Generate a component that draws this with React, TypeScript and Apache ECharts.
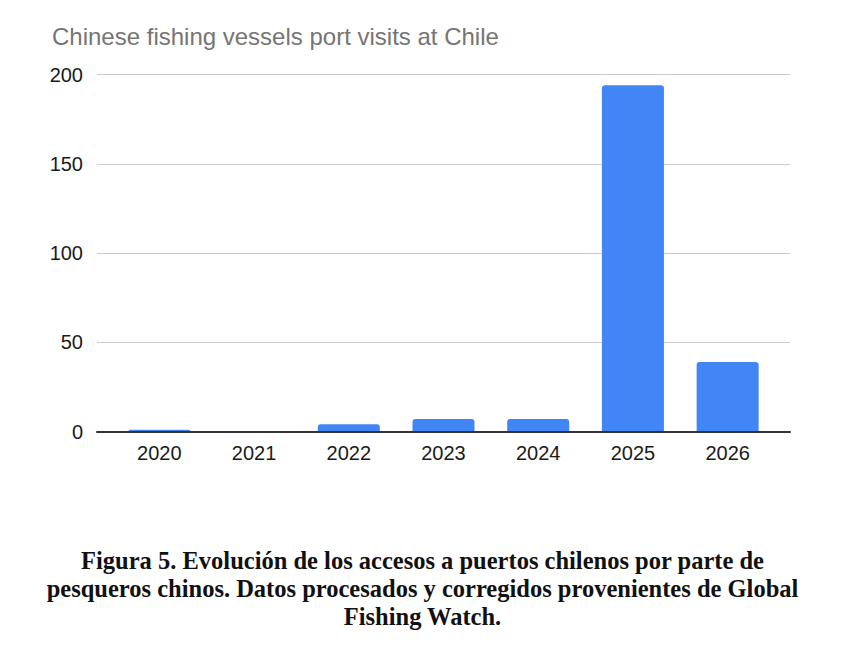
import React, { useEffect, useRef } from "react";
import * as echarts from "echarts";

const years = ["2020", "2021", "2022", "2023", "2024", "2025", "2026"];
const portVisits = [1, 0, 4, 7, 7, 194, 39];
const yTicks = [0, 50, 100, 150, 200];

const chartTitle = "Chinese fishing vessels port visits at Chile";
const captionLines = [
  "Figura 5. Evolución de los accesos a puertos chilenos por parte de",
  "pesqueros chinos. Datos procesados y corregidos provenientes de Global",
  "Fishing Watch.",
];

export default function App() {
  const ref = useRef<HTMLDivElement>(null);

  useEffect(() => {
    document.body.style.margin = "0";
    if (!ref.current) return;
    const chart = echarts.init(ref.current, undefined, { renderer: "svg" });
    const yMax = yTicks[yTicks.length - 1];
    const yInterval = yTicks[1] - yTicks[0];

    chart.setOption({
      animation: false,
      backgroundColor: "#ffffff",
      title: {
        text: chartTitle,
        left: 47,
        top: 19,
        textStyle: {
          fontFamily: "Liberation Sans, Arial, sans-serif",
          fontSize: 24,
          fontWeight: "normal",
          color: "#757575",
        },
      },
      grid: [
        // frame grid: gridlines, y labels and baseline across the full width
        { left: 97, right: 66, top: 74.5, bottom: 229.5 },
        // inner grid holding the bars and year labels
        { left: 112, right: 81, top: 74.5, bottom: 229.5 },
      ],
      xAxis: [
        {
          gridIndex: 0,
          type: "category",
          data: [""],
          axisLine: { show: true, lineStyle: { color: "#333333", width: 2 } },
          axisTick: { show: false },
          axisLabel: { show: false },
          z: 5,
        },
        {
          gridIndex: 1,
          type: "category",
          data: years,
          axisLine: { show: false },
          axisTick: { show: false },
          axisLabel: {
            margin: 11,
            fontFamily: "Liberation Sans, Arial, sans-serif",
            fontSize: 20,
            color: "#1a1a1a",
          },
        },
      ],
      yAxis: [
        {
          gridIndex: 0,
          type: "value",
          min: 0,
          max: yMax,
          interval: yInterval,
          axisLine: { show: false },
          axisTick: { show: false },
          splitLine: { lineStyle: { color: "#cccccc", width: 1 } },
          axisLabel: {
            margin: 14,
            fontFamily: "Liberation Sans, Arial, sans-serif",
            fontSize: 20,
            color: "#1a1a1a",
          },
        },
        {
          gridIndex: 1,
          type: "value",
          min: 0,
          max: yMax,
          interval: yInterval,
          show: false,
          splitLine: { show: false },
        },
      ],
      series: [
        {
          type: "bar",
          xAxisIndex: 1,
          yAxisIndex: 1,
          data: portVisits,
          barWidth: 62,
          itemStyle: { color: "#4285f4", borderRadius: [3, 3, 0, 0] },
          z: 3,
        },
      ],
      // figure caption below the chart, centred
      graphic: captionLines.map((line, i) => ({
        type: "text",
        x: 422.5,
        y: 560 + i * 28,
        style: {
          text: line,
          align: "center",
          verticalAlign: "middle",
          font: "bold 24.5px 'Liberation Serif', 'Times New Roman', serif",
          fill: "#111111",
        },
      })),
    });

    return () => chart.dispose();
  }, []);

  return <div ref={ref} style={{ width: 856, height: 661 }} />;
}
